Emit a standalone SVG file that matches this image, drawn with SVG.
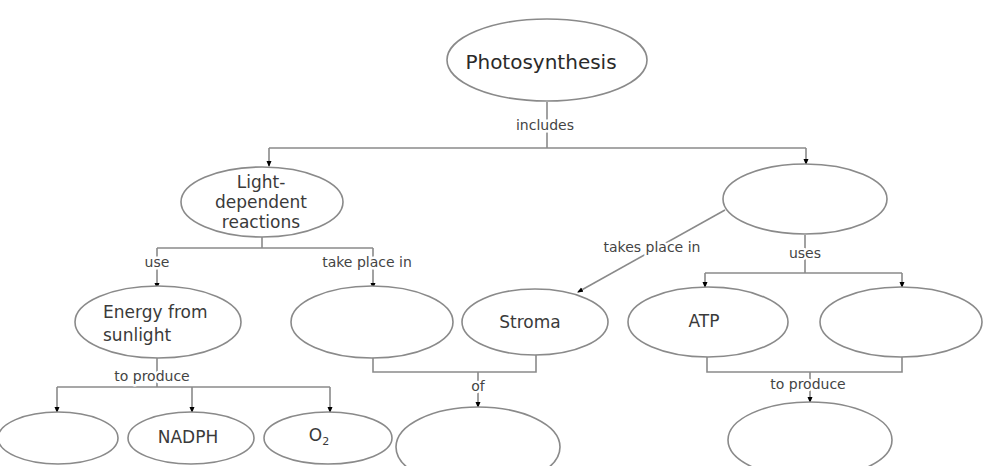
<svg xmlns="http://www.w3.org/2000/svg" width="983" height="466" viewBox="0 0 983 466">
<defs>
<marker id="arr" markerWidth="6" markerHeight="6" refX="5" refY="3" orient="auto" markerUnits="userSpaceOnUse">
<path d="M0,0.5 L6,3 L0,5.5 z" fill="#000"/>
</marker>
<style>
.node ellipse{fill:#fff;stroke:#8a8a8a;stroke-width:1.6}
.node text{font-family:"DejaVu Sans",sans-serif;font-size:17px;fill:#3a3a3a;text-anchor:middle}
.conn path{fill:none;stroke:#8a8a8a;stroke-width:1.6}
.conn .a{marker-end:url(#arr)}
.lbl{font-family:"DejaVu Sans",sans-serif;font-size:14px;fill:#444;text-anchor:middle;paint-order:stroke;stroke:#fff;stroke-width:5px;stroke-linejoin:round}
</style>
</defs>
<rect width="983" height="466" fill="#fff"/>
<g id="connectors" class="conn">
<path d="M547,102 V148 M269,148 H806"/>
<path class="a" d="M269,148 V166"/>
<path class="a" d="M806,148 V164"/>
<path d="M262,237 V248 M157,248 H373"/>
<path class="a" d="M157,248 V288"/>
<path class="a" d="M373,248 V288"/>
<path d="M157,358 V387 M57,387 H330"/>
<path class="a" d="M57,387 V412"/>
<path class="a" d="M192,387 V412"/>
<path class="a" d="M330,387 V412"/>
<path d="M373,358 V372 H536 V355"/>
<path class="a" d="M478,372 V407"/>
<path class="a" d="M725,210 L578,292"/>
<path d="M805,235 V273 M705,273 H902"/>
<path class="a" d="M705,273 V287"/>
<path class="a" d="M902,273 V287"/>
<path d="M707,357 V372 H902 V357"/>
<path class="a" d="M810,372 V402"/>
<text class="lbl" x="545" y="130">includes</text>
<text class="lbl" x="157" y="267">use</text>
<text class="lbl" x="367" y="267">take place in</text>
<text class="lbl" x="152" y="381">to produce</text>
<text class="lbl" x="478" y="391" font-size="12">of</text>
<text class="lbl" x="652" y="252">takes place in</text>
<text class="lbl" x="805" y="258">uses</text>
<text class="lbl" x="808" y="389">to produce</text>
</g>
<g id="photosynthesis" class="node"><ellipse cx="547" cy="60" rx="100" ry="41"/><text x="541" y="69" style="font-size:20px;fill:#2a2a2a">Photosynthesis</text></g>
<g id="light-dependent" class="node"><ellipse cx="262" cy="202" rx="81" ry="35"/><text x="261" y="188">Light-</text><text x="261" y="208">dependent</text><text x="261" y="228">reactions</text></g>
<g id="light-independent" class="node"><ellipse cx="805" cy="199" rx="82" ry="35"/></g>
<g id="energy" class="node"><ellipse cx="158" cy="322" rx="83" ry="36"/><text x="103" y="318" style="text-anchor:start">Energy from</text><text x="103" y="341" style="text-anchor:start">sunlight</text></g>
<g id="thylakoid" class="node"><ellipse cx="372" cy="322" rx="81" ry="36"/></g>
<g id="stroma" class="node"><ellipse cx="535" cy="322" rx="73" ry="33"/><text x="530" y="328">Stroma</text></g>
<g id="atp" class="node"><ellipse cx="708" cy="322" rx="80" ry="35"/><text x="704" y="327">ATP</text></g>
<g id="nadph-in" class="node"><ellipse cx="901" cy="322" rx="81" ry="35"/></g>
<g id="product1" class="node"><ellipse cx="58" cy="438" rx="60" ry="26"/></g>
<g id="nadph" class="node"><ellipse cx="191" cy="438" rx="63" ry="26"/><text x="188" y="443">NADPH</text></g>
<g id="o2" class="node"><ellipse cx="328" cy="438" rx="64" ry="26"/><text x="319" y="441">O<tspan dy="4" style="font-size:11px">2</tspan></text></g>
<g id="chloroplast" class="node"><ellipse cx="478" cy="447" rx="82" ry="40"/></g>
<g id="glucose" class="node"><ellipse cx="810" cy="440" rx="82" ry="38"/></g>
</svg>
